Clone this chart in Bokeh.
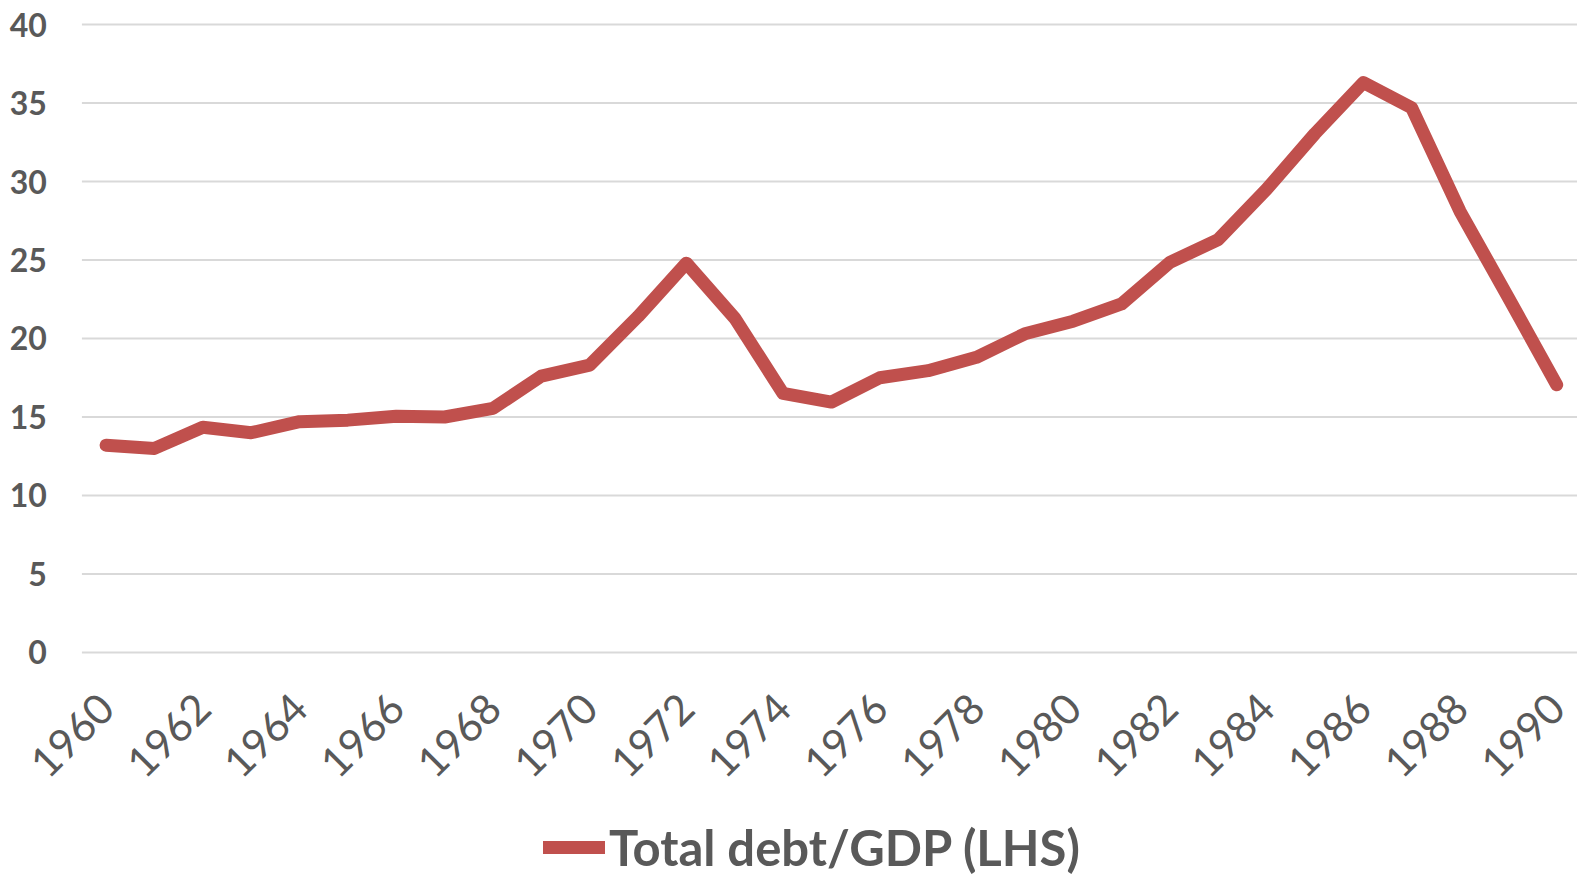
import math
from bokeh.plotting import figure
from bokeh.models import Range1d, FixedTicker, Legend, LegendItem
from bokeh.embed import file_html
from bokeh.resources import INLINE

years = list(range(1960, 1991))
debt_gdp = [13.2, 13.0, 14.35, 14.0, 14.7, 14.8, 15.05, 15.0, 15.55, 17.6,
            18.3, 21.4, 24.8, 21.3, 16.5, 15.95, 17.5, 17.95, 18.8, 20.3,
            21.1, 22.2, 24.85, 26.3, 29.5, 33.05, 36.3, 34.7, 28.1, 22.6, 17.05]
x_ticks = list(range(1960, 1991, 2))
y_ticks = [0, 5, 10, 15, 20, 25, 30, 35, 40]
series_name = "Total debt/GDP (LHS)"

TEXT = "#595959"
RED = "#C0504D"
GRID = "#D9D9D9"

X_START, X_END = 1957.816, 1990.43   # view range (frame spans the whole canvas width)
Y_START, Y_END = -14.27, 41.53       # view range (frame spans the whole canvas height)
CAT_START = 1959.5                   # left edge of the first category

# The frame fills the whole canvas; value 0 sits 652px from the top, leaving room
# under it for the rotated year labels and the legend, and room at the left for the
# value labels.
p = figure(frame_width=1577, frame_height=876,
           min_border_left=0, min_border_right=0, min_border_top=0, min_border_bottom=0,
           x_range=Range1d(X_START, X_END), y_range=Range1d(Y_START, Y_END),
           output_backend="svg", toolbar_location=None)
p.outline_line_color = None
p.background_fill_color = "white"
p.border_fill_color = "white"

p.xgrid.grid_line_color = None
p.ygrid.grid_line_color = None
p.segment(x0=[CAT_START] * len(y_ticks), y0=y_ticks,
          x1=[X_END] * len(y_ticks), y1=y_ticks,
          line_color=GRID, line_width=2)

r = p.line(years, debt_gdp, line_color=RED, line_width=13,
           line_cap="round", line_join="round")

p.xaxis.ticker = FixedTicker(ticks=x_ticks)
p.yaxis.ticker = FixedTicker(ticks=y_ticks)
p.xaxis.fixed_location = 0
p.yaxis.fixed_location = CAT_START
for ax in (p.xaxis[0], p.yaxis[0]):
    ax.axis_line_color = None
    ax.major_tick_line_color = None
    ax.minor_tick_line_color = None
    ax.major_tick_out = 0
    ax.major_tick_in = 0
    ax.major_label_text_color = TEXT
    ax.major_label_text_font = "Lato"

p.yaxis.major_label_text_font_size = "32px"
p.yaxis.major_label_text_font_style = "bold"
p.yaxis.major_label_standoff = 35

p.xaxis.major_label_text_font_size = "42px"
p.xaxis.major_label_orientation = math.pi / 4
p.xaxis.major_label_standoff = 48

legend = Legend(items=[LegendItem(label=series_name, renderers=[r])],
                location=(543, 0), orientation="horizontal",
                border_line_color=None, background_fill_alpha=0,
                label_text_font="Lato", label_text_font_style="bold",
                label_text_font_size="49px", label_text_color=TEXT,
                glyph_width=62, glyph_height=30, label_standoff=4,
                padding=0, margin=0)
p.add_layout(legend, "center")

open("out.html", "w").write(file_html(p, INLINE))
